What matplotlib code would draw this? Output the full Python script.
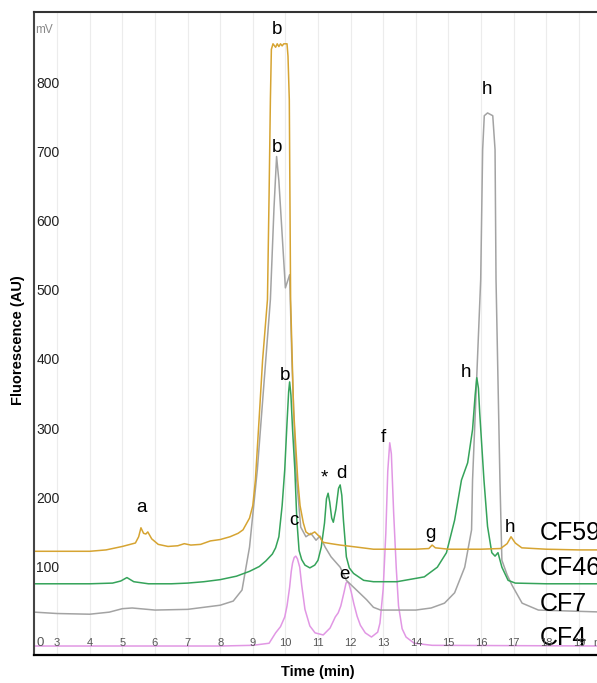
import matplotlib
matplotlib.use("Agg")
import matplotlib.pyplot as plt

plt.rcParams['font.family'] = ['Liberation Sans', 'DejaVu Sans']

# chromatogram traces (time in min, signal in mV)
cf59_t = [2.3, 3.0, 4.0, 4.5, 5.0, 5.4, 5.5, 5.57, 5.65, 5.72, 5.78, 5.9, 6.1, 6.4, 6.7,
          6.9, 7.1, 7.4, 7.7, 8.0, 8.3, 8.55, 8.7, 8.9, 9.0, 9.08, 9.2, 9.3, 9.45, 9.5,
          9.54, 9.57, 9.62, 9.7, 9.75, 9.8, 9.85, 9.9, 9.95, 10.05, 10.08, 10.12, 10.16,
          10.25, 10.38, 10.45, 10.55, 10.63, 10.75, 10.9, 11.05, 11.15, 11.4, 11.68, 12.2,
          12.7, 13.0, 14.0, 14.4, 14.5, 14.6, 15.0, 16.0, 16.6, 16.8, 16.92, 17.05, 17.25,
          18.0, 19.0, 19.8]
cf59_v = [124, 124, 124, 126, 131, 136, 145, 158, 150, 149, 152, 142, 134, 131, 132,
          135, 133, 134, 139, 141, 145, 150, 155, 172, 190, 227, 320, 400, 488, 640,
          777, 850, 858, 853, 858, 854, 858, 855, 858, 858, 840, 777, 488,
          330, 227, 190, 165, 152, 148, 152, 145, 137, 135, 133, 130,
          127, 127, 127, 128, 133, 129, 127, 127, 128, 135, 145, 136, 129,
          127, 126, 126]

cf46_t = [2.3, 3.0, 4.0, 4.7, 4.95, 5.14, 5.35, 5.8, 6.5, 7.0, 7.5, 8.0, 8.5, 8.9, 9.2,
          9.4, 9.6, 9.7, 9.8, 9.9, 9.98, 10.05, 10.1, 10.13, 10.17, 10.22, 10.29, 10.35,
          10.42, 10.5, 10.6, 10.75, 10.9, 11.0, 11.1, 11.2, 11.26, 11.31, 11.36, 11.42,
          11.47, 11.55, 11.63, 11.68, 11.73, 11.78, 11.87, 11.96, 12.09, 12.4, 12.7,
          13.42, 14.26, 14.66, 14.94, 15.19, 15.4, 15.59, 15.74, 15.82, 15.87, 15.92,
          15.96, 16.09, 16.2, 16.33, 16.43, 16.52, 16.64, 16.83, 17.05, 18.0, 19.8]
cf46_v = [77, 77, 77, 78, 81, 86, 80, 77, 77, 78, 80, 83, 88, 95, 102,
          110, 120, 129, 145, 190, 242, 310, 355, 369, 350, 300, 242, 170,
          125, 112, 104, 100, 104, 111, 130, 165, 200, 208, 195, 172,
          166, 185, 215, 220, 205, 169, 116, 100, 92, 82, 80,
          80, 87, 101, 122, 169, 227, 252, 300, 350, 375, 360,
          324, 227, 160, 122, 117, 122, 101, 82, 78, 77, 77]

cf7_t = [2.3, 3.0, 4.0, 4.6, 5.0, 5.3, 6.0, 7.0, 8.0, 8.4, 8.67, 8.9, 9.14, 9.54, 9.65,
         9.73, 9.8, 10.0, 10.13, 10.2, 10.32, 10.47, 10.63, 10.78, 10.94, 11.06, 11.22,
         11.4, 11.68, 11.87, 12.18, 12.49, 12.7, 12.92, 14.0, 14.47, 14.88, 15.19, 15.5,
         15.71, 15.74, 15.99, 16.05, 16.1, 16.2, 16.36, 16.43, 16.46, 16.58, 16.64, 16.8,
         16.95, 17.26, 17.76, 19.8]
cf7_v = [36, 34, 33, 36, 41, 42, 39, 40, 46, 52, 68, 130, 242, 488, 620,
         695, 660, 505, 524, 400, 242, 159, 145, 150, 140, 146, 130,
         116, 101, 82, 68, 54, 43, 39, 39, 42, 49, 64, 101,
         155, 227, 517, 705, 754, 758, 754, 705, 517, 227, 111, 90,
         75, 49, 39, 36]

cf4_t = [2.3, 5.0, 8.0, 9.0, 9.5, 9.7, 9.85, 9.98, 10.05, 10.13, 10.18, 10.22, 10.27,
         10.32, 10.37, 10.44, 10.5, 10.6, 10.75, 10.91, 11.16, 11.37, 11.53, 11.62, 11.7,
         11.8, 11.86, 11.9, 11.95, 12.02, 12.1, 12.2, 12.3, 12.45, 12.64, 12.83, 12.9,
         13.0, 13.08, 13.14, 13.2, 13.25, 13.32, 13.4, 13.47, 13.58, 13.7, 13.95, 14.5, 19.8]
cf4_v = [-13, -13, -13, -12, -9, 6, 15, 29, 45, 72, 95, 107, 115,
         117, 113, 101, 75, 40, 16, 6, 3, 13, 29, 35, 45,
         65, 78, 80, 77, 65, 48, 30, 17, 6, 0, 7, 20,
         70, 150, 240, 281, 265, 180, 100, 45, 12, 0, -9, -12, -13]

# peak letters
peak_text = ['a', 'b', 'b', 'b', 'c', '*', 'd', 'e', 'f', 'g', 'h', 'h', 'h']
peak_t = [5.6, 9.73, 9.73, 10.0, 10.26, 11.19, 11.71, 11.8, 13.02, 14.44, 16.18, 15.53, 16.89]
peak_v = [187, 878, 708, 378, 169, 230, 237, 90, 289, 150, 792, 383, 158]

names = ['CF59', 'CF46', 'CF7', 'CF4']
name_v = [150, 100, 48, -1]
colors = ['#D6A432', '#35A35A', '#A3A3A3', '#E197E4']

fig = plt.figure(figsize=(5.97, 6.83), dpi=100)
ax = fig.add_axes([34 / 597, 28 / 683, 1 - 34 / 597 + 0.01, 643 / 683])

for t in range(3, 20):
    ax.axvline(t, color='#ececec', lw=0.8, zorder=0)

ax.plot(cf4_t, cf4_v, color=colors[3], lw=1.1)
ax.plot(cf7_t, cf7_v, color=colors[2], lw=1.1)
ax.plot(cf46_t, cf46_v, color=colors[1], lw=1.1)
ax.plot(cf59_t, cf59_v, color=colors[0], lw=1.1)

for s, t, v in zip(peak_text, peak_t, peak_v):
    ax.text(t, v, s, fontsize=13.5, ha='center', va='center')

for s, v in zip(names, name_v):
    ax.text(17.8, v, s, fontsize=18, ha='left', va='center')

ax.set_xlim(2.29, 19.74)
ax.set_ylim(-26, 904)
ax.set_xticks([])
ax.set_yticks([])

for v in range(100, 900, 100):
    ax.text(2.36, v, str(v), fontsize=10, ha='left', va='center', color='#222222')
ax.text(2.36, -8, '0', fontsize=9.5, ha='left', va='center', color='#555555')
for t in range(3, 20):
    ax.text(t, -8, str(t), fontsize=8, ha='center', va='center', color='#555555')
ax.text(19.6, -8, 'm', fontsize=8, ha='center', va='center', color='#555555')
ax.text(2.33, 878, 'mV', fontsize=8.5, ha='left', va='center', color='#888888')

ax.spines['right'].set_visible(False)
ax.spines['left'].set_linewidth(1.5)
ax.spines['left'].set_color('#444444')
ax.spines['top'].set_linewidth(1.5)
ax.spines['top'].set_color('#333333')
ax.spines['bottom'].set_linewidth(1.6)

fig.text(18 / 597, 1 - 340 / 683, 'Fluorescence (AU)', rotation=90, fontsize=10.5,
         fontweight='bold', ha='center', va='center')
fig.text(318 / 597, 1 - 672 / 683, 'Time (min)', fontsize=10.5, fontweight='bold',
         ha='center', va='center')

fig.savefig('out.png', dpi=100)
